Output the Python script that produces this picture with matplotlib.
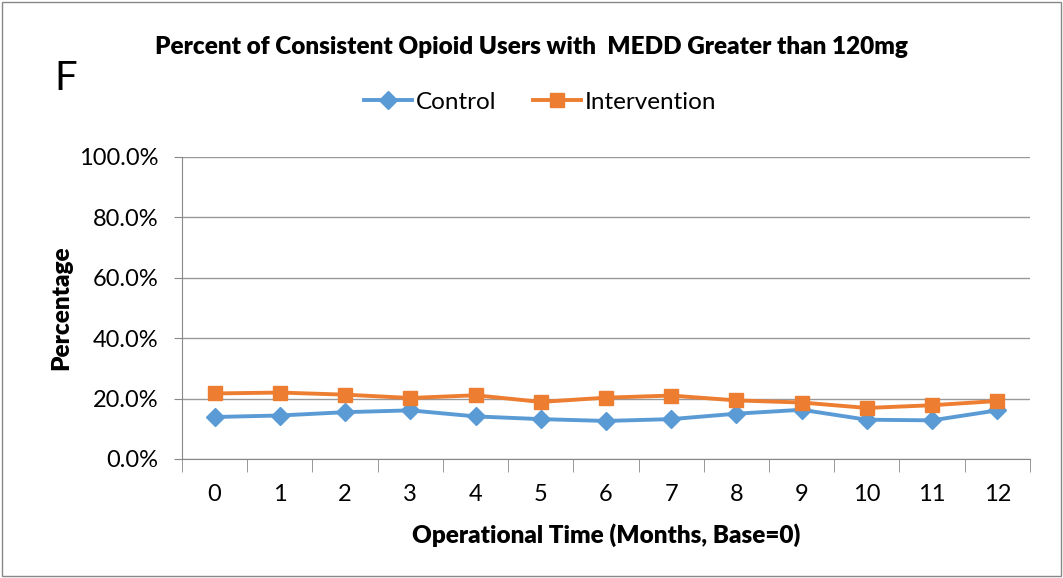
"""Percent of consistent opioid users with MEDD > 120mg (panel F)."""
import matplotlib
matplotlib.use("Agg")
import matplotlib.pyplot as plt
from matplotlib.patches import Rectangle
from matplotlib.ticker import FixedLocator, PercentFormatter

plt.rcParams["font.family"] = ["Lato", "DejaVu Sans"]

months = list(range(13))
control = [13.9, 14.4, 15.5, 16.1, 14.1, 13.2, 12.6, 13.2, 15.0, 16.3, 13.0, 12.8, 16.1]
intervention = [21.7, 22.0, 21.3, 20.2, 21.1, 18.9, 20.3, 21.0, 19.4, 18.7, 16.9, 17.8, 19.2]
yticks = [0, 20, 40, 60, 80, 100]

fig = plt.figure(figsize=(10.63, 5.78), dpi=100)
ax = fig.add_axes([0.1712, 0.2059, 0.7977, 0.5225])

ax.plot(months, control, color="#5b9bd5", lw=2.8, marker="D", ms=9,
        label="Control", zorder=3)
ax.plot(months, intervention, color="#ed7d31", lw=2.8, marker="s", ms=10,
        label="Intervention", zorder=3)

ax.set_xlim(-0.5, 12.5)
ax.set_ylim(0, 100)
ax.set_xticks(months)
ax.xaxis.set_minor_locator(FixedLocator([m - 0.5 for m in range(14)]))
ax.tick_params(axis="x", which="major", length=0, pad=18, labelsize=17)
ax.tick_params(axis="x", which="minor", length=9, color="#888888")
ax.set_yticks(yticks)
ax.yaxis.set_major_formatter(PercentFormatter(decimals=1))
ax.tick_params(axis="y", length=6, color="#888888", labelsize=17, pad=11)
ax.grid(axis="y", color="#999999", lw=1)
ax.set_axisbelow(True)
for side in ["top", "right"]:
    ax.spines[side].set_visible(False)
for side in ["left", "bottom"]:
    ax.spines[side].set_color("#888888")

ax.set_xlabel("Operational Time (Months, Base=0)", fontsize=17.5,
              fontweight="heavy", labelpad=13)
ax.set_ylabel("Percentage", fontsize=17.5, fontweight="heavy", labelpad=5)

fig.text(0.5, 0.918, "Percent of Consistent Opioid Users with  MEDD Greater than 120mg",
         ha="center", va="center", fontsize=17.5, fontweight="heavy")
fig.text(0.062, 0.865, "F", ha="center", va="center", fontsize=29)
fig.legend(loc="center", bbox_to_anchor=(0.508, 0.823), ncol=2, frameon=False,
           fontsize=17.5, handlelength=2.0, columnspacing=1.5, handletextpad=0.15)

fig.patches.append(Rectangle((0.002, 0.003), 0.996, 0.994, transform=fig.transFigure,
                             fill=False, edgecolor="#888888", lw=1))

fig.savefig("out.png", dpi=100)
